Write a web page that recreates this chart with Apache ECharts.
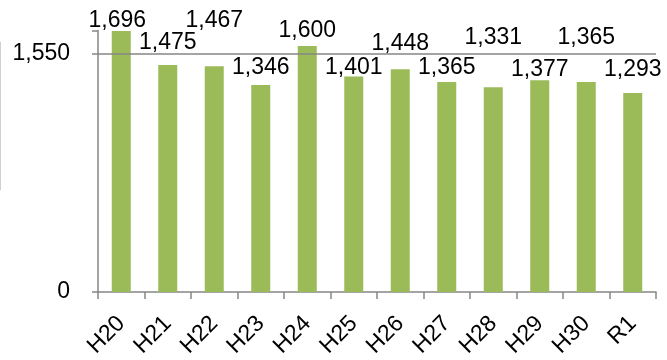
<!DOCTYPE html>
<html><head><meta charset="utf-8">
<script src="https://cdn.jsdelivr.net/npm/echarts@6/dist/echarts.min.js"></script>
<style>html,body{margin:0;padding:0;background:#fff}#c{width:667px;height:360px}</style>
</head><body><div id="c"></div>
<script>
const categories = ['H20','H21','H22','H23','H24','H25','H26','H27','H28','H29','H30','R1'];
const values = [1696,1475,1467,1346,1600,1401,1448,1365,1331,1377,1365,1293];
const yTicks = [0, 1550];

// label placement (style only): [dx, lift above bar top in px for glyph centre]
const labelShift = [[-4,10.4],[0,22.4],[0,45.6],[0,17.4],[0,15],[0,8.8],[0,25.6],[0,14.4],[0,49.7],[0,10.6],[0,44.4],[0,23.6]];

const chart = echarts.init(document.getElementById('c'), null, {renderer:'canvas'});
const FONT = 'Liberation Sans, Arial, sans-serif';
const axisGray = '#868686';
chart.setOption({
  animation: false,
  grid: {left: 98, right: 11, top: 30.5, bottom: 66},
  xAxis: {
    type: 'category', data: categories,
    axisLine: {lineStyle: {color: axisGray, width: 1.5}},
    axisTick: {show: true, length: 7, lineStyle: {color: axisGray, width: 1.5}},
    axisLabel: {rotate: 45, margin: 28, color: '#000', fontFamily: FONT, fontSize: 23, interval: 0}
  },
  yAxis: {
    type: 'value', min: 0, max: 1700, interval: 1550,
    axisLine: {show: true, lineStyle: {color: axisGray, width: 1.5}},
    axisTick: {show: true, length: 6, lineStyle: {color: axisGray, width: 1.5}},
    splitLine: {show: false},
    axisLabel: {margin: 28, color: '#000', fontFamily: FONT, fontSize: 23,
      formatter: v => yTicks.includes(v) ? v.toLocaleString('en-US') : ''}
  },
  series: [{
    type: 'bar', barWidth: 19,
    itemStyle: {color: '#9BBB59'},
    data: values.map((v, i) => ({
      value: v,
      label: {show: true, position: 'top', distance: 0,
        offset: [labelShift[i][0], -(labelShift[i][1] - 11.5)],
        color: '#000', fontFamily: FONT, fontSize: 23,
        formatter: p => p.value.toLocaleString('en-US')}
    })),
    markLine: {
      silent: true, symbol: 'none', label: {show: false},
      lineStyle: {color: axisGray, width: 1.5, type: 'solid'},
      data: [{yAxis: 1550}]
    }
  }],
  graphic: [{type: 'line', shape: {x1: 0.5, y1: 42, x2: 0.5, y2: 190}, style: {stroke: '#d0d0d0', lineWidth: 1}}]
});
</script></body></html>
